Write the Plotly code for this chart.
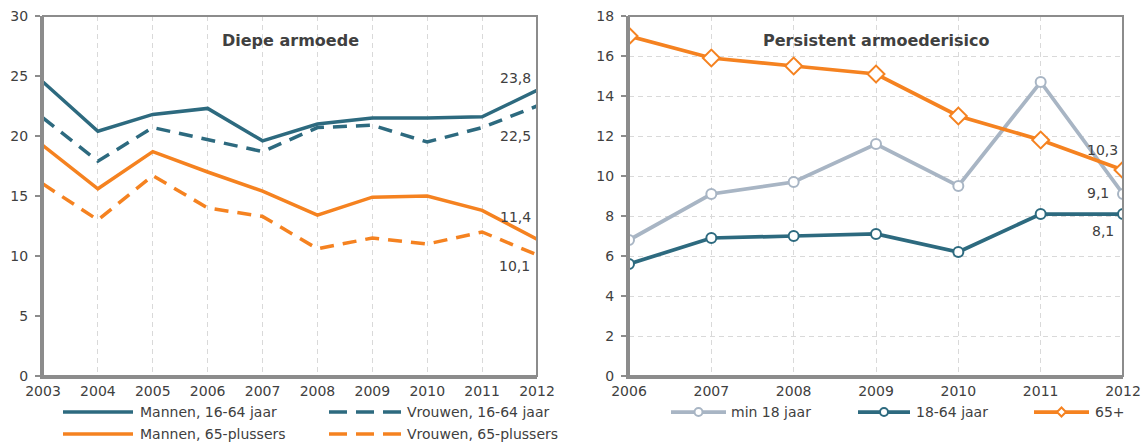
import plotly.graph_objects as go

# ---------------- data ----------------
years_left = [2003, 2004, 2005, 2006, 2007, 2008, 2009, 2010, 2011, 2012]
mannen_16_64 = [24.5, 20.4, 21.8, 22.3, 19.6, 21.0, 21.5, 21.5, 21.6, 23.8]
vrouwen_16_64 = [21.5, 17.9, 20.7, 19.7, 18.7, 20.7, 20.9, 19.5, 20.7, 22.5]
mannen_65 = [19.2, 15.6, 18.7, 17.0, 15.4, 13.4, 14.9, 15.0, 13.8, 11.4]
vrouwen_65 = [16.0, 13.0, 16.7, 14.0, 13.3, 10.6, 11.5, 11.0, 12.0, 10.1]

years_right = [2006, 2007, 2008, 2009, 2010, 2011, 2012]
min_18 = [6.8, 9.1, 9.7, 11.6, 9.5, 14.7, 9.1]
r_18_64 = [5.6, 6.9, 7.0, 7.1, 6.2, 8.1, 8.1]
plus_65 = [17.0, 15.9, 15.5, 15.1, 13.0, 11.8, 10.3]

title_left = "Diepe armoede"
title_right = "Persistent armoederisico"

TEAL = "#2d6a7f"
ORANGE = "#f58220"
GREY = "#a8b5c4"
TXT = "#404040"
AX = "#8c8c8c"
GRID = "#d9d9d9"
FONT = "DejaVu Sans"
DASH = "14px,9px"
LEG_DASH = "18px,9px"

W, H = 1144, 444
ML, MR, MT, MB = 43, 21, 16, 68
PW, PH = W - ML - MR, H - MT - MB


def px(xp):
    return (xp - ML) / PW


def py(yp):
    return (H - MB - yp) / PH


fig = go.Figure()


def fmt(v):
    return f"{v:.1f}".replace(".", ",")


# left chart
left_series = [
    ("Mannen, 16-64 jaar", mannen_16_64, TEAL, "solid"),
    ("Vrouwen, 16-64 jaar", vrouwen_16_64, TEAL, DASH),
    ("Mannen, 65-plussers", mannen_65, ORANGE, "solid"),
    ("Vrouwen, 65-plussers", vrouwen_65, ORANGE, DASH),
]
for name, vals, col, dash in left_series:
    fig.add_trace(go.Scatter(
        x=years_left, y=vals, name=name, mode="lines",
        line=dict(color=col, width=3.5, dash=dash),
        xaxis="x", yaxis="y",
    ))

# right chart
right_series = [
    ("min 18 jaar", min_18, GREY, "circle", 10),
    ("18-64 jaar", r_18_64, TEAL, "circle", 10),
    ("65+", plus_65, ORANGE, "diamond", 13),
]
for name, vals, col, sym, sz in right_series:
    fig.add_trace(go.Scatter(
        x=years_right, y=vals, name=name, mode="lines+markers",
        line=dict(color=col, width=3.75),
        marker=dict(symbol=sym, size=sz, color="white", line=dict(color=col, width=2)),
        xaxis="x2", yaxis="y2",
    ))

# value labels (end-of-line)
ann = []
end_labels = [
    ("x", "y", years_left[-1], mannen_16_64[-1], -4, 12),
    ("x", "y", years_left[-1], vrouwen_16_64[-1], -4, -30),
    ("x", "y", years_left[-1], mannen_65[-1], -4, 22),
    ("x", "y", years_left[-1], vrouwen_65[-1], -5, -11),
    ("x2", "y2", years_right[-1], plus_65[-1], -3, 20),
    ("x2", "y2", years_right[-1], min_18[-1], -12, 1),
    ("x2", "y2", years_right[-1], r_18_64[-1], -7, -17),
]
for xr, yr, xv, yv, xs, ys in end_labels:
    ann.append(dict(x=xv, y=yv, xref=xr, yref=yr, text=fmt(yv), xanchor="right",
                    yanchor="middle", xshift=xs, yshift=ys, showarrow=False,
                    font=dict(family=FONT, size=14, color=TXT)))

# titles
for xr, t in (("x domain", title_left), ("x2 domain", title_right)):
    ann.append(dict(x=0.5, y=py(41), xref=xr, yref="paper", text=f"<b>{t}</b>",
                    xanchor="center", yanchor="middle",
                    showarrow=False, font=dict(family=FONT, size=16, color=TXT)))

shapes = [
    dict(type="rect", xref="x domain", yref="y domain", x0=0, x1=1, y0=0, y1=1,
         line=dict(color=AX, width=2), layer="above"),
    dict(type="rect", xref="x2 domain", yref="y2 domain", x0=0, x1=1, y0=0, y1=1,
         line=dict(color=AX, width=2), layer="above"),
]

# ---------------- legends (drawn manually for exact line lengths) ----------------
left_leg_pos = [  # (x0, x1, y, text_x)
    (63, 133, 412, 138),
    (329, 401, 412, 405),
    (63, 133, 434, 138),
    (329, 401, 434, 405),
]
for (name, vals, col, dash), (x0, x1, yy, tx) in zip(left_series, left_leg_pos):
    shapes.append(dict(type="line", xref="paper", yref="paper", x0=px(x0), x1=px(x1),
                       y0=py(yy), y1=py(yy),
                       line=dict(color=col, width=3.5, dash=("solid" if dash == "solid" else LEG_DASH))))
    ann.append(dict(x=px(tx), y=py(yy), xref="paper", yref="paper", text=name,
                    xanchor="left", yanchor="middle", showarrow=False,
                    font=dict(family=FONT, size=14, color=TXT)))

right_leg_pos = [  # (x0, x1, y, text_x)
    (671, 726, 412, 729),
    (858, 910, 412, 914),
    (1034, 1089, 412, 1093),
]
for (name, vals, col, sym, sz), (x0, x1, yy, tx) in zip(right_series, right_leg_pos):
    shapes.append(dict(type="line", xref="paper", yref="paper", x0=px(x0), x1=px(x1),
                       y0=py(yy), y1=py(yy), line=dict(color=col, width=3.75)))
    cx, cy = px((x0 + x1) / 2), py(yy)
    if sym == "circle":
        shapes.append(dict(type="circle", xref="paper", yref="paper", xsizemode="pixel",
                           ysizemode="pixel", xanchor=cx, yanchor=cy, x0=-4, x1=4, y0=-4, y1=4,
                           fillcolor="white", line=dict(color=col, width=2)))
    else:
        shapes.append(dict(type="path", xref="paper", yref="paper", xsizemode="pixel",
                           ysizemode="pixel", xanchor=cx, yanchor=cy,
                           path="M0,-4.5 L4.5,0 L0,4.5 L-4.5,0 Z",
                           fillcolor="white", line=dict(color=col, width=2)))
    ann.append(dict(x=px(tx), y=py(yy), xref="paper", yref="paper", text=name,
                    xanchor="left", yanchor="middle", showarrow=False,
                    font=dict(family=FONT, size=14, color=TXT)))

xcommon = dict(showline=True, linecolor=AX, linewidth=3, ticks="", showgrid=True,
               gridcolor=GRID, gridwidth=1, griddash="5px,4px", zeroline=False,
               tickfont=dict(family=FONT, size=14, color=TXT), dtick=1, automargin=False)
ycommon = dict(showline=True, linecolor=AX, linewidth=3, ticks="outside", ticklen=5,
               tickcolor=AX, tickwidth=2, zeroline=False, ticklabelstandoff=4,
               tickfont=dict(family=FONT, size=14, color=TXT), automargin=False)

fig.update_layout(
    width=W, height=H,
    margin=dict(l=ML, r=MR, t=MT, b=MB, autoexpand=False),
    paper_bgcolor="white", plot_bgcolor="white",
    separators=", ",
    showlegend=False,
    xaxis=dict(domain=[0, px(537)], range=[2003, 2012], anchor="y", **xcommon),
    yaxis=dict(range=[0, 30], dtick=5, showgrid=False, anchor="x", **ycommon),
    xaxis2=dict(domain=[px(629), 1], range=[2006, 2012], anchor="y2", **xcommon),
    yaxis2=dict(range=[0, 18], dtick=2, showgrid=True, gridcolor=GRID, griddash="5px,4px",
                anchor="x2", **ycommon),
    annotations=ann,
    shapes=shapes,
)

fig.write_html("out.html", config={"displayModeBar": False},
               post_script="document.body.style.margin='0';")
